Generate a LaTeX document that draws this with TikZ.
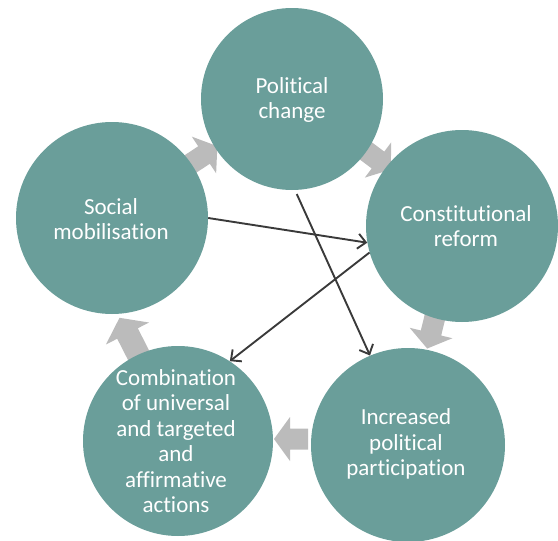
\documentclass[tikz,border=0pt]{standalone}
\usepackage{fontspec}
\setmainfont{Carlito}[Ligatures=NoCommon]
\usetikzlibrary{arrows.meta}

\definecolor{stagefill}{HTML}{6A9E9A}
\definecolor{blockgray}{HTML}{BBBBBB}
\definecolor{linkgray}{HTML}{3A3A3A}

\tikzset{
  stage/.style={circle,fill=stagefill,draw=none,inner sep=0pt},
  stagetext/.style={text=white,align=center,inner sep=0pt,
    font=\fontsize{23}{25.5}\selectfont},
  link/.style={draw=linkgray,line width=1.9pt,
    -{Straight Barb[length=8pt,width=15pt,line width=1.9pt]}},
  % block arrow of the cycle, pointing along +x, centred on the head base;
  % the argument is the length of the shaft
  pics/cyclearrow/.style={code={
    \fill[blockgray] (-#1,-10.5) -- (0,-10.5) -- (0,-22) -- (16,0)
      -- (0,22) -- (0,10.5) -- (-#1,10.5) -- cycle;
  }},
  pics/cyclearrow/.default=18
}

\begin{document}
\begin{tikzpicture}[x=1pt,y=-1pt]
\useasboundingbox (0,0) rectangle (558,541);
\clip (0,0) rectangle (558,541);

% block arrows of the cycle
\pic[rotate=33.5]  (step1) at (204,155) {cyclearrow};
\pic[rotate=-36.8] (step2) at (378,160) {cyclearrow};
\pic[rotate=-103.8](step3) at (431,333) {cyclearrow};
\pic[rotate=180]   (step4) at (290,439) {cyclearrow};
\pic[rotate=117,scale=1.1] (step5) at (127.5,333.5) {cyclearrow=26};

% stages
\node[stage,minimum size=182pt] (P) at (292,99)  {};
\node[stage,minimum size=192pt] (C) at (462,226) {};
\node[stage,minimum size=194pt] (I) at (408,445) {};
\node[stage,minimum size=190pt] (M) at (178,441) {};
\node[stage,minimum size=192pt] (S) at (112,218) {};

\node[stagetext] (Ptext) at (292,100) {Political\\change};
\node[stagetext] (Ctext) at (466,226) {Constitutional\\reform};
\node[stagetext] (Itext) at (406,444) {Increased\\political\\participation};
\node[stagetext] (Mtext) at (176,441) {Combination\\of universal\\and targeted\\and\\affirmative\\actions};
\node[stagetext] (Stext) at (111,219) {Social\\mobilisation};

% cross links
\draw[link] (S.0)   -- (C.190);
\draw[link] ([yshift=-4pt]P.-87) -- (I.113);
\draw[link] (C.196) -- (M.57);
\end{tikzpicture}
\end{document}
